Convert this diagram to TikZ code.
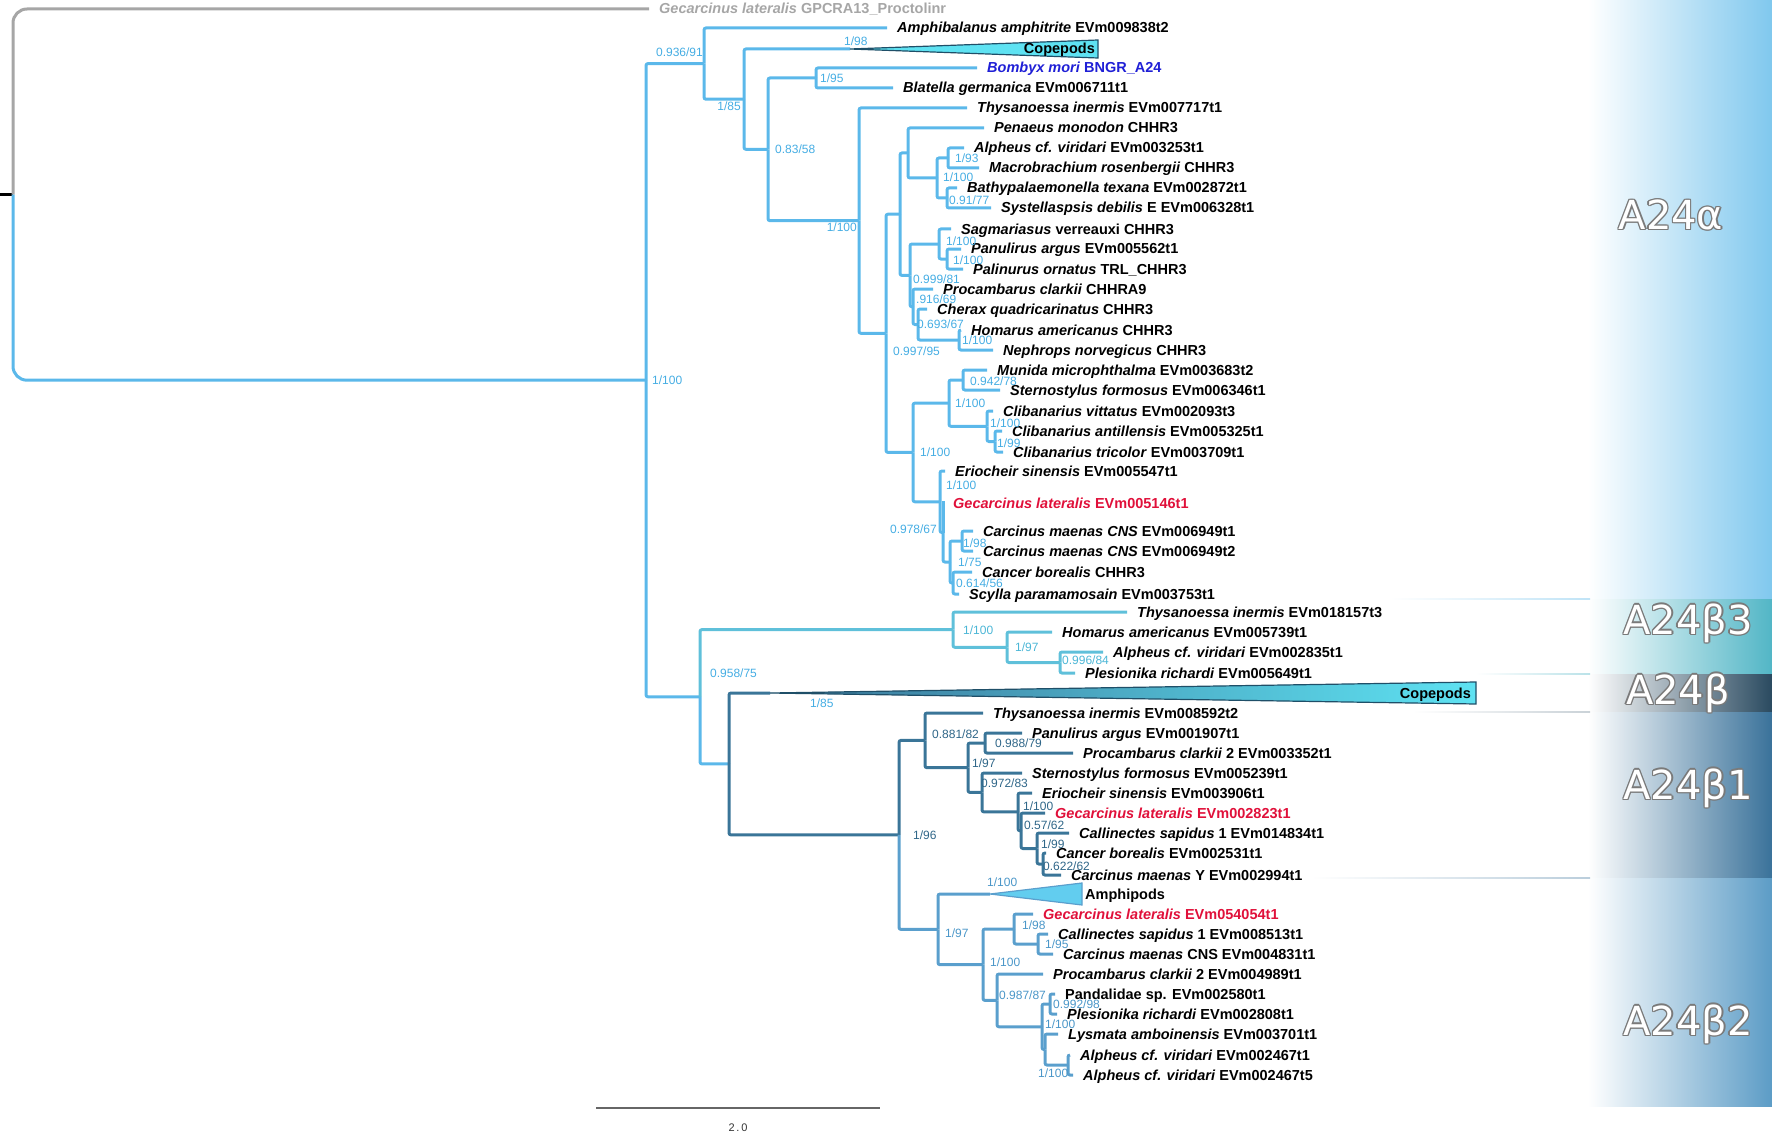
\documentclass[tikz,border=0pt]{standalone}
\usepackage{fontspec}
\setmainfont{Liberation Sans}
\newfontfamily\cladefont{DejaVu Sans}
\usetikzlibrary{calc}
\definecolor{acol}{HTML}{5BB8EA}
\definecolor{alab}{HTML}{45ADE3}
\definecolor{b3col}{HTML}{5FC0DA}
\definecolor{b3lab}{HTML}{4BB6D6}
\definecolor{bcol}{HTML}{3A7598}
\definecolor{blab}{HTML}{2F6688}
\definecolor{b2col}{HTML}{5A9FCD}
\definecolor{b2lab}{HTML}{4A96C8}
\definecolor{ogcol}{HTML}{A6A6A6}
\definecolor{tricol}{HTML}{5EE2F2}
\definecolor{ampcol}{HTML}{62CDEF}
\definecolor{triedge}{HTML}{1F4F68}
\definecolor{redlab}{HTML}{E0103A}
\definecolor{bluelab}{HTML}{1F1FD6}
\definecolor{bandA}{HTML}{80C8EE}
\definecolor{bandBiii}{HTML}{52B6C6}
\definecolor{bandB}{HTML}{2A4A60}
\definecolor{bandBi}{HTML}{3A729A}
\definecolor{bandBii}{HTML}{5C9CC6}
\definecolor{cladeedge}{HTML}{7A7A7A}
\tikzset{
    br/.style = {line width=3pt, rounded corners=2pt},
    leaf/.style = {anchor=west, inner xsep=10pt, inner ysep=1pt,
        text height=10pt, text depth=0pt,
        font=\bfseries\fontsize{14.5}{14.5}\selectfont},
    lab/.style = {inner sep=0pt, text height=8.5pt, text depth=0pt,
        font=\fontsize{12}{12}\selectfont},
    grp/.style = {inner sep=0pt, text height=10pt, text depth=0pt,
        font=\bfseries\fontsize{14.5}{14.5}\selectfont},
    tri/.style = {draw=triedge, line width=1.2pt, fill=tricol},
    clade/.style = {inner sep=0pt, font=\cladefont\fontsize{40}{40}\selectfont},
    seam/.style = {left color=white, draw=none}
}
\begin{document}
\begin{tikzpicture}[x=1pt, y=-1pt]
\useasboundingbox (0,0) rectangle (1772,1134);

% clade bands
\shade[left color=white, right color=bandA] (1588,0) rectangle (1772,599);
\shade[left color=white, right color=bandBiii] (1588,599) rectangle (1772,674);
\shade[left color=white, right color=bandB] (1588,674) rectangle (1772,712);
\shade[left color=white, right color=bandBi] (1588,712) rectangle (1772,878);
\shade[left color=white, right color=bandBii] (1588,878) rectangle (1772,1106);
\shade[seam, right color=bandA!50] (1390,598.3) rectangle (1590,599.7);
\shade[seam, right color=bandBiii!40] (1476,673.3) rectangle (1590,674.7);
\shade[seam, right color=bandB!25] (1413,711.3) rectangle (1590,712.7);
\shade[seam, right color=bandBi!35] (1311,877.3) rectangle (1590,878.7);

% clade names
\foreach \nm/\px/\py/\txt in {cA/1671/215/A24α, cBiii/1688/623/A24β3,
    cB/1678/693/A24β, cBi/1688/788/A24β1, cBii/1688/1024/A24β2} {
  \foreach \a in {0,45,...,315}
    \node[clade, text=cladeedge] at ([shift={(\a:1.4pt)}]\px,\py) {\txt};
  \node[clade, text=white] (\nm) at (\px,\py) {\txt};
}

% internal nodes
\coordinate (stub) at (0,194.6);
\coordinate (r) at (13,194.6);
\coordinate (A) at (646,380.2);
\coordinate (B) at (704,63.6);
\coordinate (C) at (744,99.2);
\coordinate (D) at (768,149.3);
\coordinate (E) at (816,78);
\coordinate (F) at (859,220.7);
\coordinate (G) at (886,333.3);
\coordinate (H) at (900,214.2);
\coordinate (P) at (908,153);
\coordinate (Q) at (937,178);
\coordinate (R) at (948,158);
\coordinate (S) at (947,198);
\coordinate (L) at (910,275.4);
\coordinate (T) at (939,244);
\coordinate (V) at (947,259);
\coordinate (U) at (913,306.8);
\coordinate (X) at (918,324.5);
\coordinate (W) at (959,340);
\coordinate (I) at (913,452.4);
\coordinate (J) at (949,403.1);
\coordinate (Y) at (963,380);
\coordinate (Z) at (987,426.3);
\coordinate (Z2) at (995,441.5);
\coordinate (K1) at (940,501.8);
\coordinate (K2) at (943,532.5);
\coordinate (K3) at (950,562);
\coordinate (Cp) at (962,541);
\coordinate (K4) at (953,583);
\coordinate (M) at (700,696.8);
\coordinate (N) at (953,629.6);
\coordinate (O) at (1007,647.3);
\coordinate (O2) at (1060,662.5);
\coordinate (Bt) at (729,763.9);
\coordinate (Q1) at (899,834.9);
\coordinate (b1) at (925,740.4);
\coordinate (b1a) at (968,767.7);
\coordinate (PP) at (985,743);
\coordinate (SS) at (982,792.4);
\coordinate (EE) at (1018,811.9);
\coordinate (GG) at (1021,830.8);
\coordinate (CC) at (1037,848.5);
\coordinate (CB) at (1043,864);
\coordinate (b2n) at (938,929.4);
\coordinate (b2a) at (983,964.7);
\coordinate (GC) at (1014,929);
\coordinate (CS) at (1038,944);
\coordinate (PR) at (997,1000.4);
\coordinate (CR) at (1042,1026.8);
\coordinate (PL) at (1050,1004);
\coordinate (LA) at (1045,1049.5);
\coordinate (AA) at (1068,1065);
\coordinate (copA) at (850,49);
\coordinate (copB) at (770,693);
\coordinate (ampA) at (990,894);

% leaves
\node[leaf, text=ogcol] (og) at (649,9) {\textit{Gecarcinus lateralis} GPCRA13\_Proctolinr};
\node[leaf] (amph) at (887,28) {\textit{Amphibalanus amphitrite} EVm009838t2};
\node[leaf, text=bluelab] (bomb) at (977,68) {\textit{Bombyx mori} BNGR\_A24};
\node[leaf] (blat) at (893,88) {\textit{Blatella germanica} EVm006711t1};
\node[leaf] (thA) at (967,108) {\textit{Thysanoessa inermis} EVm007717t1};
\node[leaf] (pen) at (984,128) {\textit{Penaeus monodon} CHHR3};
\node[leaf] (alA) at (964,148) {\textit{Alpheus cf. viridari} EVm003253t1};
\node[leaf] (mac) at (979,168) {\textit{Macrobrachium rosenbergii} CHHR3};
\node[leaf] (bat) at (957,188) {\textit{Bathypalaemonella texana} EVm002872t1};
\node[leaf] (sys) at (991,208) {\textit{Systellaspsis debilis} E EVm006328t1};
\node[leaf] (sag) at (951,229) {\textit{Sagmariasus} verreauxi CHHR3};
\node[leaf] (paA) at (961,249) {\textit{Panulirus argus} EVm005562t1};
\node[leaf] (pal) at (963,269) {\textit{Palinurus ornatus} TRL\_CHHR3};
\node[leaf] (prA) at (933,289) {\textit{Procambarus clarkii} CHHRA9};
\node[leaf] (che) at (927,309) {\textit{Cherax quadricarinatus} CHHR3};
\node[leaf] (hoA) at (961,330) {\textit{Homarus americanus} CHHR3};
\node[leaf] (nep) at (993,350) {\textit{Nephrops norvegicus} CHHR3};
\node[leaf] (mun) at (987,370) {\textit{Munida microphthalma} EVm003683t2};
\node[leaf] (stA) at (1000,390) {\textit{Sternostylus formosus} EVm006346t1};
\node[leaf] (cvi) at (993,411) {\textit{Clibanarius vittatus} EVm002093t3};
\node[leaf] (can) at (1002,431) {\textit{Clibanarius antillensis} EVm005325t1};
\node[leaf] (ctr) at (1003,452) {\textit{Clibanarius tricolor} EVm003709t1};
\node[leaf] (erA) at (945,471) {\textit{Eriocheir sinensis} EVm005547t1};
\node[leaf, text=redlab] (geA) at (943,503) {\textit{Gecarcinus lateralis} EVm005146t1};
\node[leaf] (cmA) at (973,531) {\textit{Carcinus maenas CNS} EVm006949t1};
\node[leaf] (cmB) at (973,551) {\textit{Carcinus maenas CNS} EVm006949t2};
\node[leaf] (cbA) at (972,572) {\textit{Cancer borealis} CHHR3};
\node[leaf] (scy) at (959,594) {\textit{Scylla paramamosain} EVm003753t1};
\node[leaf] (thB) at (1127,612) {\textit{Thysanoessa inermis} EVm018157t3};
\node[leaf] (hoB) at (1052,632) {\textit{Homarus americanus} EVm005739t1};
\node[leaf] (alB) at (1103,652) {\textit{Alpheus cf. viridari} EVm002835t1};
\node[leaf] (plA) at (1075,673) {\textit{Plesionika richardi} EVm005649t1};
\node[leaf] (thC) at (983,713) {\textit{Thysanoessa inermis} EVm008592t2};
\node[leaf] (paB) at (1022,733) {\textit{Panulirus argus} EVm001907t1};
\node[leaf] (prB) at (1073,753) {\textit{Procambarus clarkii} 2 EVm003352t1};
\node[leaf] (stB) at (1022,773) {\textit{Sternostylus formosus} EVm005239t1};
\node[leaf] (erB) at (1032,793) {\textit{Eriocheir sinensis} EVm003906t1};
\node[leaf, text=redlab] (geB) at (1045,813) {\textit{Gecarcinus lateralis} EVm002823t1};
\node[leaf] (csA) at (1069,833) {\textit{Callinectes sapidus} 1 EVm014834t1};
\node[leaf] (cbB) at (1046,853) {\textit{Cancer borealis} EVm002531t1};
\node[leaf] (cmY) at (1061,875) {\textit{Carcinus maenas} Y EVm002994t1};
\node[leaf, text=redlab] (geC) at (1033,914) {\textit{Gecarcinus lateralis} EVm054054t1};
\node[leaf] (csB) at (1048,934) {\textit{Callinectes sapidus} 1 EVm008513t1};
\node[leaf] (cmC) at (1053,954) {\textit{Carcinus maenas} CNS EVm004831t1};
\node[leaf] (prC) at (1043,974) {\textit{Procambarus clarkii} 2 EVm004989t1};
\node[leaf] (pan) at (1055,994) {Pandalidae sp. EVm002580t1};
\node[leaf] (plB) at (1057,1014) {\textit{Plesionika richardi} EVm002808t1};
\node[leaf] (lys) at (1058,1034) {\textit{Lysmata amboinensis} EVm003701t1};
\node[leaf] (alC) at (1070,1055) {\textit{Alpheus cf. viridari} EVm002467t1};
\node[leaf] (alD) at (1073,1075) {\textit{Alpheus cf. viridari} EVm002467t5};

% root
\draw[black, line width=3pt] (stub) -- (r);
\draw[br, ogcol, rounded corners=14pt] (r) |- (og.west);
\draw[br, acol, rounded corners=14pt] (r) |- (A);

% A24alpha and upper part
\begin{scope}[acol]
\draw[br] (A) |- (B);
\draw[br] (A) |- (M);
\draw[br] (B) |- (amph.west);
\draw[br] (B) |- (C);
\draw[br] (C) |- (copA);
\draw[br] (C) |- (D);
\draw[br] (D) |- (E);
\draw[br] (D) |- (F);
\draw[br] (E) |- (bomb.west);
\draw[br] (E) |- (blat.west);
\draw[br] (F) |- (thA.west);
\draw[br] (F) |- (G);
\draw[br] (G) |- (H);
\draw[br] (G) |- (I);
\draw[br] (H) |- (P);
\draw[br] (H) |- (L);
\draw[br] (P) |- (pen.west);
\draw[br] (P) |- (Q);
\draw[br] (Q) |- (R);
\draw[br] (Q) |- (S);
\draw[br] (R) |- (alA.west);
\draw[br] (R) |- (mac.west);
\draw[br] (S) |- (bat.west);
\draw[br] (S) |- (sys.west);
\draw[br] (L) |- (T);
\draw[br] (L) |- (U);
\draw[br] (T) |- (sag.west);
\draw[br] (T) |- (V);
\draw[br] (V) |- (paA.west);
\draw[br] (V) |- (pal.west);
\draw[br] (U) |- (prA.west);
\draw[br] (U) |- (X);
\draw[br] (X) |- (che.west);
\draw[br] (X) |- (W);
\draw[br] (W) |- (hoA.west);
\draw[br] (W) |- (nep.west);
\draw[br] (I) |- (J);
\draw[br] (I) |- (K1);
\draw[br] (J) |- (Y);
\draw[br] (J) |- (Z);
\draw[br] (Y) |- (mun.west);
\draw[br] (Y) |- (stA.west);
\draw[br] (Z) |- (cvi.west);
\draw[br] (Z) |- (Z2);
\draw[br] (Z2) |- (can.west);
\draw[br] (Z2) |- (ctr.west);
\draw[br] (K1) |- (erA.west);
\draw[br] (K1) |- (K2);
\draw[br] (K2) |- (geA.west);
\draw[br] (K2) |- (K3);
\draw[br] (K3) |- (Cp);
\draw[br] (K3) |- (K4);
\draw[br] (Cp) |- (cmA.west);
\draw[br] (Cp) |- (cmB.west);
\draw[br] (K4) |- (cbA.west);
\draw[br] (K4) |- (scy.west);
\draw[br] (M) |- (Bt);
\end{scope}

% A24beta3
\begin{scope}[b3col]
\draw[br] (M) |- (N);
\draw[br] (N) |- (thB.west);
\draw[br] (N) |- (O);
\draw[br] (O) |- (hoB.west);
\draw[br] (O) |- (O2);
\draw[br] (O2) |- (alB.west);
\draw[br] (O2) |- (plA.west);
\end{scope}

% A24beta and A24beta1
\begin{scope}[bcol]
\draw[br] (Bt) |- (copB);
\draw[br] (Bt) |- (Q1);
\draw[br] (Q1) |- (b1);
\draw[br] (b1) |- (thC.west);
\draw[br] (b1) |- (b1a);
\draw[br] (b1a) |- (PP);
\draw[br] (b1a) |- (SS);
\draw[br] (PP) |- (paB.west);
\draw[br] (PP) |- (prB.west);
\draw[br] (SS) |- (stB.west);
\draw[br] (SS) |- (EE);
\draw[br] (EE) |- (erB.west);
\draw[br] (EE) |- (GG);
\draw[br] (GG) |- (geB.west);
\draw[br] (GG) |- (CC);
\draw[br] (CC) |- (csA.west);
\draw[br] (CC) |- (CB);
\draw[br] (CB) |- (cbB.west);
\draw[br] (CB) |- (cmY.west);
\end{scope}

% A24beta2
\begin{scope}[b2col]
\draw[br] (Q1) |- (b2n);
\draw[br] (b2n) |- (ampA);
\draw[br] (b2n) |- (b2a);
\draw[br] (b2a) |- (GC);
\draw[br] (b2a) |- (PR);
\draw[br] (GC) |- (geC.west);
\draw[br] (GC) |- (CS);
\draw[br] (CS) |- (csB.west);
\draw[br] (CS) |- (cmC.west);
\draw[br] (PR) |- (prC.west);
\draw[br] (PR) |- (CR);
\draw[br] (CR) |- (PL);
\draw[br] (CR) |- (LA);
\draw[br] (PL) |- (pan.west);
\draw[br] (PL) |- (plB.west);
\draw[br] (LA) |- (lys.west);
\draw[br] (LA) |- (AA);
\draw[br] (AA) |- (alC.west);
\draw[br] (AA) |- (alD.west);
\end{scope}

% collapsed clades
\draw[tri] (copA) -- (1098,40) -- (1098,58) -- cycle;
\draw[draw=triedge, line width=1.2pt, left color=bcol, right color=tricol]
    (copB) -- (1476,682) -- (1476,704) -- cycle;
\draw[tri, draw=b2col, fill=ampcol] (ampA) -- (1082,883) -- (1082,905) -- cycle;
\node[grp, anchor=east] (copAt) at (1095,49) {Copepods};
\node[grp, anchor=east] (copBt) at (1471,693) {Copepods};
\node[grp, anchor=west] (ampt) at (1085,894) {Amphipods};

% support values
\begin{scope}[text=alab]
\node[lab, anchor=west] (sA) at (652,380) {1/100};
\node[lab, anchor=east] (sB) at (703,52) {0.936/91};
\node[lab, anchor=east] (sC) at (741,106) {1/85};
\node[lab, anchor=west] (sCopA) at (844,41) {1/98};
\node[lab, anchor=west] (sE) at (820,78) {1/95};
\node[lab, anchor=west] (sD) at (775,149) {0.83/58};
\node[lab, anchor=east] (sF) at (857,227) {1/100};
\node[lab, anchor=west] (sR) at (955,158) {1/93};
\node[lab, anchor=west] (sQ) at (943,177) {1/100};
\node[lab, anchor=west] (sS) at (949,200) {0.91/77};
\node[lab, anchor=west] (sT) at (946,241) {1/100};
\node[lab, anchor=west] (sV) at (953,260) {1/100};
\node[lab, anchor=west] (sL) at (913,279) {0.999/81};
\node[lab, anchor=west] (sU) at (916,299) {.916/69};
\node[lab, anchor=west] (sX) at (917,324) {0.693/67};
\node[lab, anchor=west] (sW) at (962,340) {1/100};
\node[lab, anchor=west] (sG) at (893,351) {0.997/95};
\node[lab, anchor=west] (sY) at (970,381) {0.942/78};
\node[lab, anchor=west] (sJ) at (955,403) {1/100};
\node[lab, anchor=west] (sZ) at (990,423) {1/100};
\node[lab, anchor=west] (sZ2) at (997,443) {1/99};
\node[lab, anchor=west] (sI) at (920,452) {1/100};
\node[lab, anchor=west] (sK1) at (946,485) {1/100};
\node[lab, anchor=east] (sK2) at (937,529) {0.978/67};
\node[lab, anchor=west] (sCp) at (963,543) {1/98};
\node[lab, anchor=west] (sK3) at (958,562) {1/75};
\node[lab, anchor=west] (sK4) at (956,583) {0.614/56};
\node[lab, anchor=west] (sM) at (710,673) {0.958/75};
\node[lab, anchor=west] (sCopB) at (810,703) {1/85};
\end{scope}
\begin{scope}[text=b3lab]
\node[lab, anchor=west] (sN) at (963,630) {1/100};
\node[lab, anchor=west] (sO) at (1015,647) {1/97};
\node[lab, anchor=west] (sO2) at (1062,660) {0.996/84};
\end{scope}
\begin{scope}[text=blab]
\node[lab, anchor=west] (sb1) at (932,734) {0.881/82};
\node[lab, anchor=west] (sPP) at (995,743) {0.988/79};
\node[lab, anchor=west] (sb1a) at (972,763) {1/97};
\node[lab, anchor=west] (sSS) at (981,783) {0.972/83};
\node[lab, anchor=west] (sEE) at (1023,806) {1/100};
\node[lab, anchor=west] (sGG) at (1024,825) {0.57/62};
\node[lab, anchor=west] (sCC) at (1041,844) {1/99};
\node[lab, anchor=west] (sCB) at (1043,866) {0.622/62};
\node[lab, anchor=west] (sQ1) at (913,835) {1/96};
\end{scope}
\begin{scope}[text=b2lab]
\node[lab, anchor=west] (sAmp) at (987,882) {1/100};
\node[lab, anchor=west] (sb2) at (945,933) {1/97};
\node[lab, anchor=west] (sGC) at (1022,925) {1/98};
\node[lab, anchor=west] (sCS) at (1045,944) {1/95};
\node[lab, anchor=west] (sb2a) at (990,962) {1/100};
\node[lab, anchor=west] (sPR) at (999,995) {0.987/87};
\node[lab, anchor=west] (sPL) at (1053,1004) {0.992/98};
\node[lab, anchor=west] (sCR) at (1045,1024) {1/100};
\node[lab, anchor=west] (sAA) at (1038,1073) {1/100};
\end{scope}

% scale bar
\coordinate (sbl) at (596,1108);
\coordinate (sbr) at (880,1108);
\draw[black!60, line width=2pt] (sbl) -- (sbr);
\node[font=\fontsize{11}{11}\selectfont, text=black!80] (sbt) at (738,1128) {2\,.\,0};
\end{tikzpicture}
\end{document}
